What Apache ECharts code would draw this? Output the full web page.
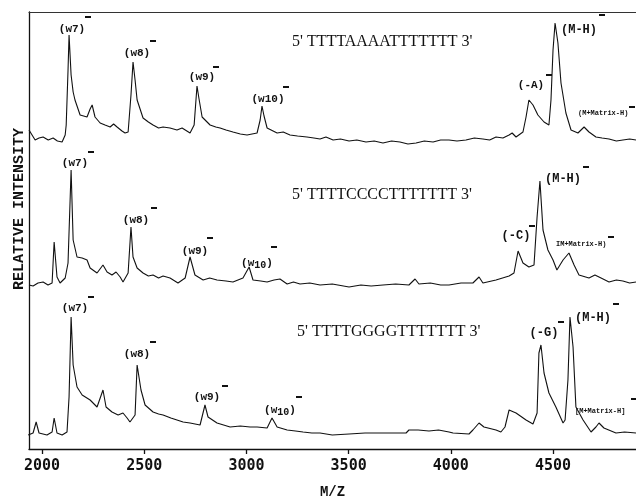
<!DOCTYPE html>
<html lang="en">

<head>
  <meta charset="utf-8">
  <script src="https://cdn.jsdelivr.net/npm/echarts@6.0.0/dist/echarts.min.js"></script>
  <style>html, body { margin: 0; padding: 0; background: #fff; }</style>
</head>

<body>
  <div id="spectrumChart" style="width: 636px;height:501px;"></div>

  <script type="text/javascript">

    // m/z axis ticks
    var tickValues = [2000, 2500, 3000, 3500, 4000, 4500];

    // 5' TTTTAAAATTTTTTT 3'  (top trace)
    var mzA = [1936, 1966, 1985, 2005, 2030, 2054, 2075, 2098, 2113, 2118, 2127, 2132, 2142, 2152, 2161, 2186, 2220, 2235, 2245, 2259, 2284,
      2308, 2333, 2350, 2367, 2391, 2406, 2421, 2435, 2445, 2455, 2465, 2494, 2520, 2543, 2570, 2592, 2626, 2660, 2685, 2724, 2744, 2758,
      2768, 2783, 2822, 2850, 2871, 2900, 2934, 2970, 3003, 3052, 3067, 3076, 3086, 3101, 3150, 3180, 3213, 3250, 3296, 3330, 3360, 3389, 3424,
      3460, 3502, 3540, 3585, 3625, 3668, 3710, 3751, 3790, 3830, 3870, 3913, 3950, 3991, 4030, 4074, 4115, 4157, 4190, 4221, 4255, 4285, 4300,
      4319, 4353, 4368, 4382, 4402, 4426, 4456, 4480, 4490,
      4500, 4510, 4524, 4539, 4563, 4588, 4622, 4652, 4676, 4710, 4740, 4774, 4810, 4842, 4875, 4906];
    var intA = [319, 309, 311, 312, 309, 311, 308, 307, 314, 324, 379, 414, 374, 357, 349, 334, 332, 340, 344, 332, 326,
      324, 322, 325, 322, 318, 316, 317, 354, 387, 369, 349, 331, 327, 324, 321, 322, 321, 319, 321, 316, 324, 363,
      350, 332, 324, 322, 321, 319, 317, 315, 314, 316, 329, 343, 333, 321, 316, 317, 314, 313, 312, 311, 310, 312, 309,
      310, 308, 309, 307, 308, 306, 308, 307, 305, 306, 308, 307, 309, 309, 308, 309, 311, 310, 309, 312, 311, 314, 316,
      312, 317, 332, 349, 344, 334, 327, 324, 349,
      399, 426, 406, 366, 336, 319, 316, 322, 317, 312, 311, 310, 308, 309, 310, 309];

    // 5' TTTTCCCCTTTTTTT 3'  (middle trace)
    var mzC = [1936, 1956, 1980, 2005, 2029, 2049, 2059, 2073, 2088, 2113, 2127, 2142, 2152, 2171, 2196, 2220, 2235, 2269, 2298,
      2318, 2342, 2362, 2382, 2396, 2421, 2435, 2445, 2465, 2494, 2520, 2543, 2570, 2592, 2626, 2665, 2700, 2724, 2748, 2788, 2820, 2856,
      2900, 2934, 2983, 3013, 3032, 3070, 3101, 3135, 3164, 3199, 3230, 3262, 3310, 3360, 3420, 3502, 3560, 3610, 3668, 3730, 3795, 3825, 3844,
      3900, 3950, 3991, 4050, 4108, 4138, 4157, 4221,
      4285, 4309, 4329, 4353, 4382, 4407, 4422, 4436, 4451, 4475, 4500, 4519, 4549, 4578, 4603, 4627, 4676, 4705, 4735,
      4774, 4810, 4842, 4875, 4906];
    var intC = [164, 163, 166, 167, 164, 166, 207, 172, 166, 171, 186, 279, 209, 192, 191, 189, 181, 176, 184,
      177, 174, 177, 172, 167, 176, 222, 192, 181, 176, 173, 174, 171, 173, 171, 166, 171, 192, 174, 169, 171, 169,
      168, 167, 171, 182, 169, 168, 167, 169, 170, 165, 167, 165, 166, 164, 165, 162, 164, 163, 164, 165, 164, 170, 165,
      166, 164, 164, 166, 166, 172, 166, 169,
      173, 176, 198, 186, 182, 184, 232, 268, 219, 199, 189, 179, 189, 196, 184, 174, 171, 174, 171,
      167, 169, 168, 166, 167];

    // 5' TTTTGGGGTTTTTTT 3'  (bottom trace)
    var mzG = [1932, 1956, 1971, 1985, 2024, 2049, 2059, 2073, 2098, 2122, 2132, 2142, 2152, 2171, 2196, 2235, 2269, 2298,
      2313, 2342, 2372, 2396, 2416, 2430, 2455, 2465, 2484, 2504, 2543, 2570, 2592, 2630, 2660, 2690, 2724, 2773, 2797, 2812, 2856,
      2920, 2970, 3018, 3052, 3101, 3125, 3150, 3199, 3240, 3277, 3320, 3360, 3420, 3502, 3580, 3668, 3781, 3795, 3840, 3893, 3940, 3991, 4011,
      4089, 4108, 4138,
      4162, 4221, 4245, 4265, 4285, 4319, 4368, 4402, 4422, 4431, 4441, 4456, 4480, 4514, 4549, 4559, 4573, 4583, 4598,
      4612, 4647, 4686, 4710, 4725, 4749, 4808, 4850, 4906];
    var intG = [14, 16, 27, 16, 14, 17, 31, 16, 14, 17, 52, 132, 84, 62, 54, 49, 42, 59,
      42, 37, 34, 36, 31, 27, 34, 84, 59, 44, 37, 35, 34, 31, 29, 27, 26, 24, 44, 32, 26,
      22, 23, 22, 22, 21, 31, 22, 19, 18, 17, 16, 16, 14, 15, 16, 16, 16, 19, 19, 18, 19, 17, 16,
      15, 19, 26,
      22, 19, 17, 22, 39, 36, 29, 25, 36, 96, 104, 76, 56, 42, 26, 29, 69, 132, 102,
      42, 29, 17, 22, 26, 21, 16, 17, 16];

    // peak labels: text, x, y, font size, minus-bar x, minus-bar y, align
    var peakLabels = [
      ['(w7)', 72, 29, 11, 88, 16, 'center'],
      ['(w8)', 137, 53, 11, 153, 40, 'center'],
      ['(w9)', 202, 77, 11, 216, 66, 'center'],
      ['(w10)', 268, 99, 11, 286, 86, 'center'],
      ['(-A)', 531, 85, 11, 549, 74, 'center'],
      ['(M-H)', 579, 30, 12, 602, 14, 'center'],
      ['(M+Matrix-H)', 578, 113, 7, 632, 106, 'left'],
      ['(w7)', 75, 163, 11, 91, 151, 'center'],
      ['(w8)', 136, 220, 11, 154, 207, 'center'],
      ['(w9)', 195, 251, 11, 210, 237, 'center'],
      ['(w{s|10})', 257, 263, 11, 274, 246, 'center'],
      ['(-C)', 516, 236, 12, 532, 225, 'center'],
      ['(M-H)', 563, 179, 12, 586, 166, 'center'],
      ['IM+Matrix-H)', 556, 244, 7, 611, 236, 'left'],
      ['(w7)', 75, 308, 11, 91, 296, 'center'],
      ['(w8)', 137, 354, 11, 153, 341, 'center'],
      ['(w9)', 207, 397, 11, 225, 385, 'center'],
      ['(w{s|10})', 280, 410, 11, 299, 396, 'center'],
      ['(-G)', 544, 333, 12, 561, 321, 'center'],
      ['(M-H)', 593, 318, 12, 616, 303, 'center'],
      ['[M+Matrix-H]', 575, 411, 7, 634, 398, 'left']
    ];

    var sequences = [
      ["5' TTTTAAAATTTTTTT 3'", 292, 42],
      ["5' TTTTCCCCTTTTTTT 3'", 292, 195],
      ["5' TTTTGGGGTTTTTTT 3'", 297, 332]
    ];

    function pairs(xs, ys) {
        return xs.map(function (x, i) { return [x, ys[i]]; });
    }

    function traceSeries(name, xs, ys) {
        return {
            name: name,
            type: 'line',
            data: pairs(xs, ys),
            showSymbol: false,
            symbol: 'none',
            lineStyle: { color: '#111', width: 1.1 },
            silent: true
        };
    }

    function createSpectrumChart() {
        const chart = echarts.init(document.getElementById('spectrumChart'));
        const graphics = [];

        peakLabels.forEach(function (p) {
            const txt = p[0].indexOf('{s|') >= 0 ? '{a|' + p[0].replace('{s|10}', '}{s|10}{a|') + '}' : p[0];
            graphics.push({
                type: 'text',
                x: p[1],
                y: p[2],
                style: {
                    text: txt,
                    fontFamily: 'Liberation Mono',
                    fontWeight: 'bold',
                    fontSize: p[3],
                    fill: '#111',
                    align: p[6],
                    verticalAlign: 'middle',
                    rich: {
                        a: { fontFamily: 'Liberation Mono', fontWeight: 'bold', fontSize: p[3], fill: '#111' },
                        s: { fontFamily: 'Liberation Mono', fontWeight: 'bold', fontSize: p[3] - 1, fill: '#111', padding: [4, 0, 0, 0] }
                    }
                }
            });
            graphics.push({
                type: 'rect',
                shape: { x: p[4] - 3, y: p[5], width: 6, height: 2 },
                style: { fill: '#111' }
            });
        });

        sequences.forEach(function (s) {
            graphics.push({
                type: 'text',
                x: s[1],
                y: s[2],
                style: {
                    text: s[0],
                    fontFamily: 'Liberation Serif',
                    fontSize: 16,
                    fill: '#111',
                    align: 'left',
                    verticalAlign: 'middle'
                }
            });
        });

        graphics.push({
            type: 'text',
            x: 19,
            y: 209,
            rotation: Math.PI / 2,
            style: {
                text: 'RELATIVE INTENSITY',
                fontFamily: 'Liberation Mono',
                fontWeight: 'bold',
                fontSize: 15,
                fill: '#111',
                align: 'center',
                verticalAlign: 'middle'
            }
        });

        let option = {
            animation: false,
            backgroundColor: '#fff',
            grid: { left: 29, right: 0, top: 12, bottom: 52, containLabel: false, outerBoundsMode: 'none' },
            xAxis: [
                {
                    type: 'value',
                    min: 1936,
                    max: 4906,
                    name: 'M/Z',
                    nameLocation: 'middle',
                    nameGap: 36,
                    nameTextStyle: { fontFamily: 'Liberation Mono', fontWeight: 'bold', fontSize: 14, color: '#111' },
                    axisLine: { lineStyle: { color: '#111', width: 1.3 } },
                    axisTick: { customValues: tickValues, length: 5, lineStyle: { color: '#111', width: 1.3 } },
                    axisLabel: {
                        customValues: tickValues,
                        formatter: function (v) { return String(v); },
                        fontFamily: 'DejaVu Sans Mono',
                        fontWeight: 'bold',
                        fontSize: 15,
                        color: '#111',
                        margin: 10
                    },
                    splitLine: { show: false }
                },
                {
                    type: 'value',
                    position: 'top',
                    min: 1936,
                    max: 4906,
                    axisLine: { lineStyle: { color: '#333', width: 1.2 } },
                    axisTick: { show: false },
                    axisLabel: { show: false },
                    splitLine: { show: false }
                }
            ],
            yAxis: {
                type: 'value',
                min: 0,
                max: 437,
                axisLine: { show: true, lineStyle: { color: '#111', width: 1.3 } },
                axisTick: { show: false },
                axisLabel: { show: false },
                splitLine: { show: false }
            },
            series: [
                traceSeries('TTTTAAAATTTTTTT', mzA, intA),
                traceSeries('TTTTCCCCTTTTTTT', mzC, intC),
                traceSeries('TTTTGGGGTTTTTTT', mzG, intG)
            ],
            graphic: graphics
        };

        chart.setOption(option);
    }
    createSpectrumChart();
  </script>
</body>

</html>
